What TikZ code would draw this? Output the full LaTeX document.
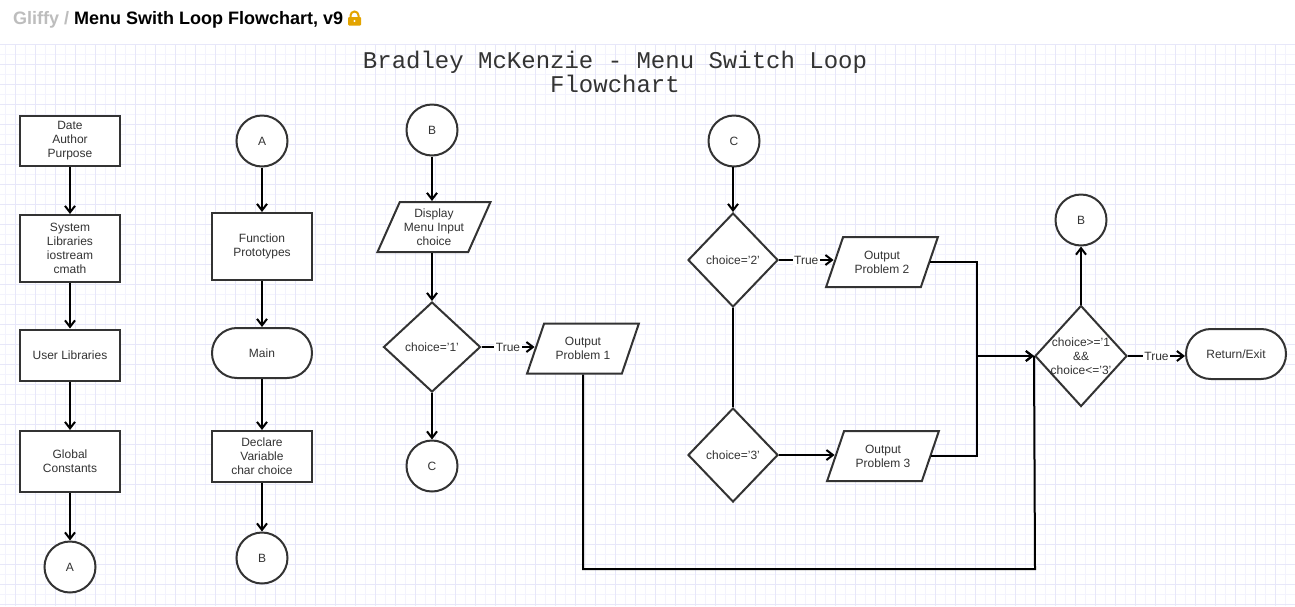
\documentclass[tikz,border=0pt]{standalone}
\usepackage{fontspec}
\setmainfont{Liberation Sans}
\newfontfamily\monofam{Liberation Mono}
\usetikzlibrary{shapes.geometric,arrows.meta,calc}
\definecolor{gridminor}{HTML}{F3F3FD}
\definecolor{gridmajor}{HTML}{E7E7F9}
\definecolor{ink}{HTML}{333333}
\definecolor{lockgold}{HTML}{E3A400}
\definecolor{crumb}{HTML}{BDBDBD}
\tikzset{
  txt/.style={font=\fontsize{12}{14}\selectfont, text=ink, align=center},
  box/.style={txt, draw=ink, line width=2pt, fill=white, rectangle, minimum width=100, inner sep=0},
  stadium/.style={box, minimum height=50, rounded corners=24.9},
  conn/.style={txt, draw=ink, line width=2pt, fill=white, circle, minimum size=51, inner sep=0},
  io/.style={txt, draw=ink, line width=2pt, fill=white, trapezium, trapezium left angle=62, trapezium right angle=118, trapezium stretches=true, minimum width=112, minimum height=50, inner sep=0},
  decision/.style={draw=ink, line width=2pt, fill=white, diamond, inner sep=0},
  dlabel/.style={txt},
  arr/.style={draw=black, line width=2pt, -{Straight Barb[length=6.5pt,width=10pt]}},
  link/.style={draw=black, line width=2pt},
  lbl/.style={txt, fill=white, inner sep=1.5pt},
}
\begin{document}
\begin{tikzpicture}[x=1pt,y=-1pt]
\useasboundingbox (0,0) rectangle (1295,606);
\fill[white] (0,0) rectangle (1295,606);
% grid
\foreach \x in {5,15,...,1295} \draw[gridminor, line width=1pt] (\x,44) -- (\x,606);
\foreach \y in {44,54,...,606} \draw[gridminor, line width=1pt] (0,\y) -- (1295,\y);
\foreach \x in {15,35,...,1295} \draw[gridmajor, line width=1pt] (\x,44) -- (\x,606);
\foreach \y in {44,64,...,606} \draw[gridmajor, line width=1pt] (0,\y) -- (1295,\y);
% header
\node[anchor=base west, inner sep=0, font=\fontsize{18}{20}\selectfont\bfseries] (hdr) at (13,24)
  {\textcolor{crumb}{Gliffy /} Menu Swith Loop Flowchart, v9};
\fill[lockgold, rounded corners=1pt] (348,17) rectangle (361,25.5);
\draw[lockgold, line width=2pt] (350.5,17.5) -- (350.5,15.5) arc[start angle=180, end angle=360, radius=4] -- (358.5,17.5);
\fill[white] (354.5,21) circle (1.2);
% title
\node[font=\monofam\fontsize{24}{24}\selectfont, text=ink, align=center, inner sep=0] (title) at (615,72)
  {Bradley McKenzie - Menu Switch Loop\\Flowchart};
% column 1
\node[box, minimum height=50] (dap) at (70,141) {Date\\Author\\Purpose};
\node[box, minimum height=67] (sys) at (70,248.5) {System\\Libraries\\iostream\\cmath};
\node[box, minimum height=51] (usr) at (70,355) {User Libraries};
\node[box, minimum height=61] (glob) at (70,461.5) {Global\\Constants};
\node[conn] (A1) at (70,567) {A};
% column 2
\node[conn] (A2) at (262,141) {A};
\node[box, minimum height=67] (proto) at (262,246.5) {Function\\Prototypes};
\node[stadium] (main) at (262,353) {Main};
\node[box, minimum height=51] (decl) at (262,456.5) {Declare\\Variable\\char choice};
\node[conn] (B1) at (262,558) {B};
% column 3
\node[conn] (B2) at (432,130) {B};
\node[io, minimum width=114] (disp) at (434,227) {Display\\Menu Input\\choice};
\node[decision, minimum width=97, minimum height=90, label={[dlabel]center:choice='1'}] (c1) at (432,347) {};
\node[conn] (C1) at (432,466) {C};
\node[io] (out1) at (583,348.5) {Output\\Problem 1};
% column 4
\node[conn] (C2) at (734,141) {C};
\node[decision, minimum width=90, minimum height=94, label={[dlabel]center:choice='2'}] (c2) at (733,260) {};
\node[decision, minimum width=90, minimum height=94, label={[dlabel]center:choice='3'}] (c3) at (733,455) {};
\node[io] (out2) at (882,262) {Output\\Problem 2};
\node[io] (out3) at (883,456) {Output\\Problem 3};
% right part
\node[decision, minimum width=92, minimum height=101, label={[dlabel]center:choice>='1\\\&\&\\choice<='3'}] (c4) at (1081,356) {};
\node[conn] (B3) at (1081,220) {B};
\node[stadium] (exit) at (1236,354) {Return/Exit};
\coordinate (merge) at (977,356);
\coordinate (loopc) at (1035,569);
% connectors
\draw[arr] (dap) -- (sys);
\draw[arr] (sys) -- (usr);
\draw[arr] (usr) -- (glob);
\draw[arr] (glob) -- (A1);
\draw[arr] (A2) -- (proto);
\draw[arr] (proto) -- (main);
\draw[arr] (main) -- (decl);
\draw[arr] (decl) -- (B1);
\draw[arr] (B2.south) -- (B2.south |- disp.north);
\draw[arr] (c1.north |- disp.south) -- (c1.north);
\draw[arr] (c1.east) -- node[lbl]{True} (c1.east -| out1.west);
\draw[arr] (c1) -- (C1);
\draw[arr] (C2.south) -- (C2.south -| c2.north) -- (c2.north);
\draw[arr] (c2.east) -- node[lbl]{True} (c2.east -| out2.west);
\draw[link] (c2.south) -- (c3.north);
\draw[arr] (c3.east) -- (c3.east -| out3.west);
\draw[link] (out1.center |- out1.south) |- (loopc) -- (c4.west);
\draw[arr] (out2.east) -| (merge) -- (c4.west);
\draw[arr] (out3.east) -| (merge) -- (c4.west);
\draw[arr] (c4.north) -- (B3.south);
\draw[arr] (c4.east) -- node[lbl]{True} (c4.east -| exit.west);
\end{tikzpicture}
\end{document}
